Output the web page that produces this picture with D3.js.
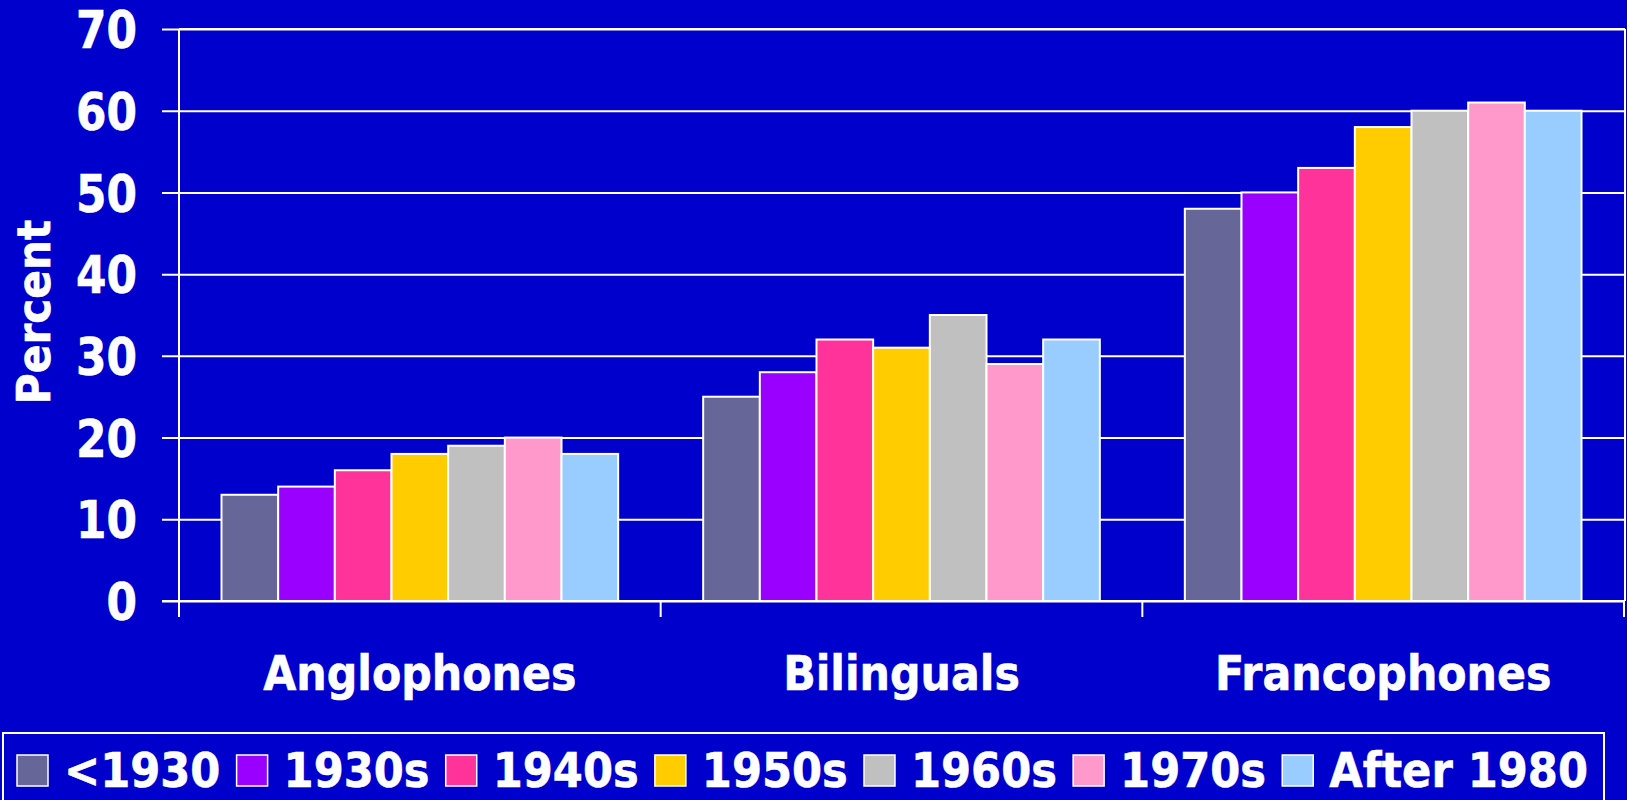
<!DOCTYPE html>
<html>
<head>
<meta charset="utf-8">
<script src="https://cdn.jsdelivr.net/npm/d3@7"></script>
<style>
  html, body { margin: 0; padding: 0; background: #0000CC; }
  svg { display: block; }
  text { font-family: "DejaVu Sans", Verdana, sans-serif; font-weight: bold; fill: #ffffff; stroke: #ffffff; stroke-width: 0.6px; }
</style>
</head>
<body>
<svg id="chart" width="1627" height="800"></svg>
<script>
// ---- data ----
const categories = ["Anglophones", "Bilinguals", "Francophones"];
const seriesNames = ["<1930", "1930s", "1940s", "1950s", "1960s", "1970s", "After 1980"];
const seriesColors = ["#666699", "#9900FF", "#FF3399", "#FFCC00", "#C0C0C0", "#FF99CC", "#99CCFF"];
const anglophones = [13, 14, 16, 18, 19, 20, 18];
const bilinguals = [25, 28, 32, 31, 35, 29, 32];
const francophones = [48, 50, 53, 58, 60, 61, 60];
const yTicks = [0, 10, 20, 30, 40, 50, 60, 70];
const yLabel = "Percent";

const values = [anglophones, bilinguals, francophones];

// ---- layout ----
const W = 1627, H = 800;
const pL = 179, pR = 1624, pT = 29, pB = 601;

const svg = d3.select("#chart");
svg.append("rect").attr("width", W).attr("height", H).attr("fill", "#0000CC");

const y = d3.scaleLinear().domain([0, 70]).range([pB, pT]);
const x0 = d3.scaleBand().domain(categories).range([pL, pR]).paddingInner(0).paddingOuter(0);
const x1 = d3.scaleBand().domain(seriesNames).range([0, x0.bandwidth()]).paddingInner(0).paddingOuter(0.75);
const color = d3.scaleOrdinal().domain(seriesNames).range(seriesColors);

// gridlines + y ticks (extend left of axis by 17px)
const yAxis = d3.axisLeft(y).tickValues(yTicks).tickSize(-(pR - pL)).tickSizeOuter(0).tickFormat(d3.format("d"));
const gy = svg.append("g").attr("transform", `translate(${pL},0)`).call(yAxis);
gy.select(".domain").remove();
gy.selectAll(".tick line").attr("stroke", "#fff").attr("stroke-width", 2).attr("x1", -17);
gy.selectAll(".tick text").remove();
gy.selectAll(".tick").append("text")
  .attr("text-anchor", "end")
  .attr("dominant-baseline", "central")
  .attr("font-size", 51)
  .attr("transform", `translate(-42,1) scale(0.86,1)`)
  .text(d => d);

// plot border (top & right)
svg.append("line").attr("x1", pL).attr("x2", pR + 1).attr("y1", pT).attr("y2", pT)
  .attr("stroke", "#fff").attr("stroke-width", 2);
svg.append("line").attr("x1", pR + 1).attr("x2", pR + 1).attr("y1", pT).attr("y2", pB)
  .attr("stroke", "#fff").attr("stroke-width", 2);

// bars
const groups = svg.append("g").selectAll("g").data(categories).join("g")
  .attr("transform", d => `translate(${x0(d)},0)`);
groups.selectAll("rect")
  .data((c, i) => seriesNames.map((s, j) => ({ s, v: values[i][j] })))
  .join("rect")
  .attr("x", d => x1(d.s))
  .attr("width", x1.bandwidth())
  .attr("y", d => y(d.v))
  .attr("height", d => y(0) - y(d.v))
  .attr("fill", d => color(d.s))
  .attr("stroke", "#fff")
  .attr("stroke-width", 2);

// y axis line
svg.append("line").attr("x1", pL).attr("x2", pL).attr("y1", pT).attr("y2", pB + 16)
  .attr("stroke", "#fff").attr("stroke-width", 2);
// x axis line
svg.append("line").attr("x1", pL - 17).attr("x2", pR + 1).attr("y1", pB).attr("y2", pB)
  .attr("stroke", "#fff").attr("stroke-width", 2);
// x ticks at category boundaries
const bounds = categories.map(c => x0(c)).concat([x0(categories[categories.length - 1]) + x0.bandwidth()]);
svg.append("g").selectAll("line").data(bounds).join("line")
  .attr("x1", d => d).attr("x2", d => d)
  .attr("y1", pB).attr("y2", pB + 16)
  .attr("stroke", "#fff").attr("stroke-width", 2);

// category labels
svg.append("g").selectAll("text").data(categories).join("text")
  .attr("text-anchor", "middle")
  .attr("font-size", 48)
  .attr("transform", d => `translate(${x0(d) + x0.bandwidth() / 2},690) scale(0.89,1)`)
  .text(d => d);

// y label
svg.append("text")
  .attr("text-anchor", "middle")
  .attr("font-size", 47)
  .attr("transform", `translate(50,312) rotate(-90) scale(0.9,1)`)
  .text(yLabel);

// legend
svg.append("rect").attr("x", 3).attr("y", 733).attr("width", 1601).attr("height", 100)
  .attr("fill", "none").attr("stroke", "#fff").attr("stroke-width", 2);

const LSX = 0.9;
const lg = svg.append("g");
const items = lg.selectAll("g").data(seriesNames).join("g");
items.append("rect")
  .attr("width", 31).attr("height", 31).attr("y", 755)
  .attr("fill", d => color(d)).attr("stroke", "#fff").attr("stroke-width", 1.5);
const ltexts = items.append("text").attr("font-size", 48).text(d => d);
// measure and position
const swW = 31, swGap = 16, startX = 17, endX = 1588;
const widths = [];
ltexts.each(function () { widths.push(this.getComputedTextLength() * LSX); });
const natural = d3.sum(widths) + seriesNames.length * (swW + swGap);
const gap = (endX - startX - natural) / (seriesNames.length - 1);
let cx = startX;
items.each(function (d, i) {
  const g = d3.select(this);
  g.select("rect").attr("x", cx);
  g.select("text").attr("transform", `translate(${cx + swW + swGap},787) scale(${LSX},1)`);
  cx += swW + swGap + widths[i] + gap;
});
</script>
</body>
</html>
